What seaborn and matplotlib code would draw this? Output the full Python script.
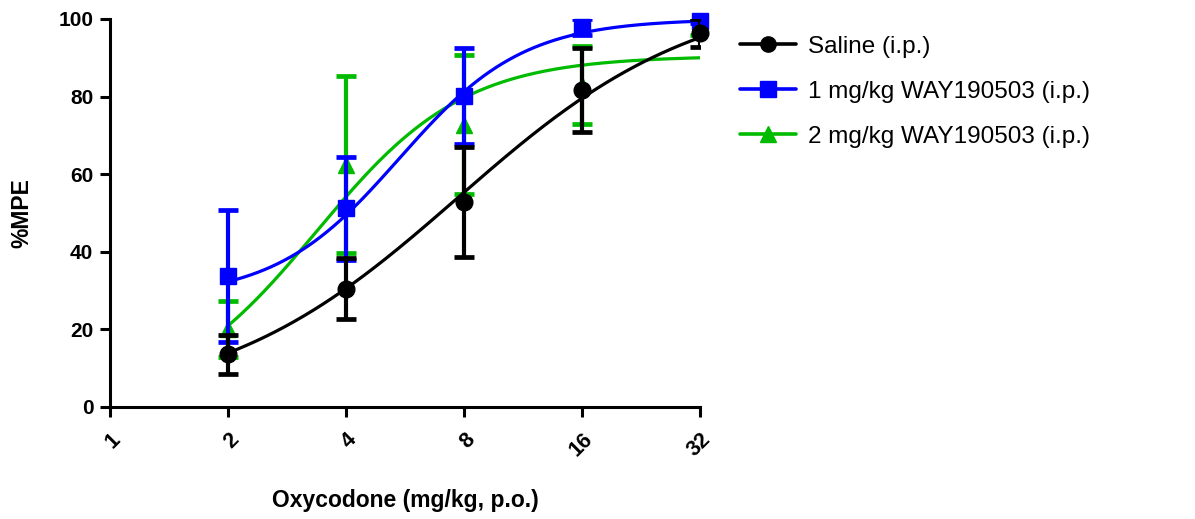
import numpy as np
import pandas as pd
import matplotlib
matplotlib.use("Agg")
import matplotlib.pyplot as plt
import seaborn as sns
from matplotlib.lines import Line2D

# ---- data ----
doses = [2, 4, 8, 16, 32]
x_ticks = [1, 2, 4, 8, 16, 32]
x_tick_labels = ["1", "2", "4", "8", "16", "32"]
y_ticks = [0, 20, 40, 60, 80, 100]

saline_mean = [13.6, 30.5, 52.8, 81.7, 96.4]
saline_err = [5.0, 7.8, 14.2, 10.7, 3.6]
way1_mean = [33.7, 51.2, 80.2, 98.0, 99.5]
way1_err = [17.0, 13.2, 12.4, 2.0, 0.6]
way2_mean = [20.2, 62.5, 72.8, 83.0, 98.0]
way2_err = [7.2, 22.7, 18.0, 10.0, 2.0]

labels = ["Saline (i.p.)", "1 mg/kg WAY190503 (i.p.)", "2 mg/kg WAY190503 (i.p.)"]
colors = ["#000000", "#0000FF", "#00BB00"]
markers = ["o", "s", "^"]

# fitted sigmoid parameters (bottom, top, slope per doubling, log2 EC50) estimated from the curves
saline_fit = (0.0, 108.0, 0.98, 2.95)
way1_fit = (28.0, 100.0, 1.9, 2.45)
way2_fit = (0.0, 90.5, 1.6, 1.75)

sns.set_theme(style="ticks")
plt.rcParams["font.family"] = ["Liberation Sans", "DejaVu Sans"]
plt.rcParams["text.color"] = "black"
plt.rcParams["axes.labelcolor"] = "black"
plt.rcParams["xtick.color"] = "black"
plt.rcParams["ytick.color"] = "black"

fig = plt.figure(figsize=(11.95, 5.19), dpi=100)
ax = fig.add_axes([110 / 1195, 112 / 519, 590 / 1195, 388 / 519])

def curve(params, x):
    b, t, k, c = params
    u = np.log2(x)
    return b + (t - b) / (1 + np.exp(-k * (u - c)))

xs = np.geomspace(doses[0], doses[-1], 300)
series = [
    (way2_mean, way2_err, way2_fit, 2),
    (way1_mean, way1_err, way1_fit, 1),
    (saline_mean, saline_err, saline_fit, 0),
]
z = 2
for mean, err, fit, i in series:
    df = pd.DataFrame({"x": xs, "y": curve(fit, xs)})
    sns.lineplot(data=df, x="x", y="y", ax=ax, color=colors[i], linewidth=2.3,
                 zorder=z, legend=False)
    ax.errorbar(doses, mean, yerr=err, fmt="none", ecolor=colors[i], elinewidth=3.0,
                capsize=7, capthick=3.4, zorder=z + 0.5)
    ax.plot(doses, mean, linestyle="none", marker=markers[i], color=colors[i],
            markersize=12 if i == 0 else 11.5, zorder=z + 0.6, clip_on=False)
    z += 1

ax.set_xscale("log", base=2)
ax.set_xlim(1, 32)
ax.set_ylim(0, 100)
ax.set_xticks(x_ticks)
ax.set_xticklabels(x_tick_labels, rotation=45, ha="right", va="top",
                   rotation_mode="anchor", fontsize=15.5, fontweight="bold")
ax.minorticks_off()
ax.set_yticks(y_ticks)
ax.set_yticklabels([str(v) for v in y_ticks], fontsize=15, fontweight="bold")
ax.tick_params(axis="both", length=7, width=2.2, color="black", pad=5)
ax.tick_params(axis="x", pad=9)
for s in ["left", "bottom"]:
    ax.spines[s].set_linewidth(2.2)
    ax.spines[s].set_color("black")
for s in ["top", "right"]:
    ax.spines[s].set_visible(False)

ax.set_xlabel("Oxycodone (mg/kg, p.o.)", fontsize=16.5, fontweight="bold", labelpad=20)
ax.set_ylabel("%MPE", fontsize=16.5, fontweight="bold", labelpad=18)

handles = [Line2D([0], [0], color=colors[i], marker=markers[i], linewidth=2.6,
                  markersize=11) for i in range(3)]
fig.legend(handles, labels, loc="upper left", bbox_to_anchor=(730 / 1195, 1 - 26 / 519),
           frameon=False, fontsize=17.5, handlelength=2.3, handletextpad=0.5,
           labelspacing=0.95, borderaxespad=0)

fig.savefig("out.png", dpi=100)
